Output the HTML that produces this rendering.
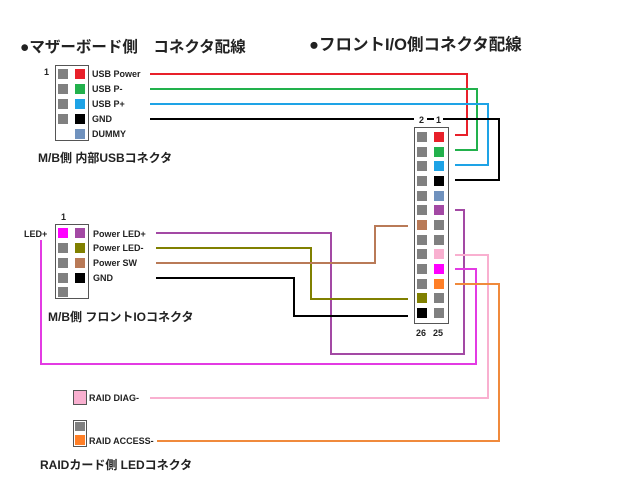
<!DOCTYPE html>
<html><head><meta charset="utf-8"><style>
html,body{margin:0;padding:0;background:#fff;}
svg{display:block;}
text{font-family:"Liberation Sans","Noto Sans CJK JP",sans-serif;font-weight:bold;fill:#222;}
</style></head><body>
<svg width="624" height="477" viewBox="0 0 624 477" xmlns="http://www.w3.org/2000/svg">
<text x="20" y="52" font-size="15.5">●マザーボード側　コネクタ配線</text>
<text x="309" y="50" font-size="16.5">●フロントI/O側コネクタ配線</text>

<!-- USB connector -->
<rect x="55.5" y="65.5" width="33" height="75" fill="#fff" stroke="#555"/>
<text x="44" y="75" font-size="9">1</text>
<g fill="#808080">
<rect x="58" y="69" width="10" height="10"/><rect x="58" y="84" width="10" height="10"/><rect x="58" y="99" width="10" height="10"/><rect x="58" y="114" width="10" height="10"/>
</g>
<rect x="75" y="69" width="10" height="10" fill="#e8202a"/>
<rect x="75" y="84" width="10" height="10" fill="#22b14c"/>
<rect x="75" y="99" width="10" height="10" fill="#1ea3e6"/>
<rect x="75" y="114" width="10" height="10" fill="#000"/>
<rect x="75" y="129" width="10" height="10" fill="#7092be"/>
<g font-size="9">
<text x="92" y="77">USB Power</text><text x="92" y="92">USB P-</text><text x="92" y="107">USB P+</text><text x="92" y="122">GND</text><text x="92" y="137">DUMMY</text>
</g>
<text x="38" y="162" font-size="12">M/B側 内部USBコネクタ</text>

<!-- Big connector -->
<rect x="414.5" y="127.5" width="34" height="196" fill="#fff" stroke="#555"/>
<text x="419" y="123" font-size="9">2</text><text x="436" y="123" font-size="9">1</text>
<text x="416" y="336" font-size="9">26</text><text x="433" y="336" font-size="9">25</text>
<g>
<rect x="417" y="132" width="10" height="10" fill="#808080"/><rect x="434" y="132" width="10" height="10" fill="#e8202a"/>
<rect x="417" y="147" width="10" height="10" fill="#808080"/><rect x="434" y="147" width="10" height="10" fill="#22b14c"/>
<rect x="417" y="161" width="10" height="10" fill="#808080"/><rect x="434" y="161" width="10" height="10" fill="#1ea3e6"/>
<rect x="417" y="176" width="10" height="10" fill="#808080"/><rect x="434" y="176" width="10" height="10" fill="#000"/>
<rect x="417" y="191" width="10" height="10" fill="#808080"/><rect x="434" y="191" width="10" height="10" fill="#7092be"/>
<rect x="417" y="205" width="10" height="10" fill="#808080"/><rect x="434" y="205" width="10" height="10" fill="#a349a4"/>
<rect x="417" y="220" width="10" height="10" fill="#b97a57"/><rect x="434" y="220" width="10" height="10" fill="#808080"/>
<rect x="417" y="235" width="10" height="10" fill="#808080"/><rect x="434" y="235" width="10" height="10" fill="#808080"/>
<rect x="417" y="249" width="10" height="10" fill="#808080"/><rect x="434" y="249" width="10" height="10" fill="#f9b0d0"/>
<rect x="417" y="264" width="10" height="10" fill="#808080"/><rect x="434" y="264" width="10" height="10" fill="#ff00ff"/>
<rect x="417" y="279" width="10" height="10" fill="#808080"/><rect x="434" y="279" width="10" height="10" fill="#ff7f27"/>
<rect x="417" y="293" width="10" height="10" fill="#808000"/><rect x="434" y="293" width="10" height="10" fill="#808080"/>
<rect x="417" y="308" width="10" height="10" fill="#000"/><rect x="434" y="308" width="10" height="10" fill="#808080"/>
</g>

<!-- Front IO connector -->
<rect x="55.5" y="224.5" width="33" height="74" fill="#fff" stroke="#555"/>
<text x="61" y="220" font-size="9">1</text>
<text x="24" y="237" font-size="9">LED+</text>
<rect x="58" y="228" width="10" height="10" fill="#ff00ff"/>
<g fill="#808080"><rect x="58" y="243" width="10" height="10"/><rect x="58" y="258" width="10" height="10"/><rect x="58" y="273" width="10" height="10"/><rect x="58" y="287" width="10" height="10"/></g>
<rect x="75" y="228" width="10" height="10" fill="#a349a4"/>
<rect x="75" y="243" width="10" height="10" fill="#808000"/>
<rect x="75" y="258" width="10" height="10" fill="#b97a57"/>
<rect x="75" y="273" width="10" height="10" fill="#000"/>
<g font-size="9">
<text x="93" y="237">Power LED+</text><text x="93" y="251">Power LED-</text><text x="93" y="266">Power SW</text><text x="93" y="281">GND</text>
</g>
<text x="48" y="321" font-size="12">M/B側 フロントIOコネクタ</text>

<!-- RAID -->
<rect x="73.5" y="390.5" width="13" height="14" fill="#f9b0d0" stroke="#555"/>
<rect x="73.5" y="420.5" width="13" height="26" fill="#fff" stroke="#555"/>
<rect x="75" y="422" width="10" height="9" fill="#808080"/>
<rect x="75" y="435" width="10" height="10" fill="#ff7f27"/>
<g font-size="9"><text x="89" y="401">RAID DIAG-</text><text x="89" y="444">RAID ACCESS-</text></g>
<text x="40" y="469" font-size="12">RAIDカード側 LEDコネクタ</text>

<!-- wires -->
<g fill="none" stroke-width="2">
<polyline stroke="#e8202a" points="150,74 467,74 467,135 455,135"/>
<polyline stroke="#22b14c" points="150,89 477,89 477,150 455,150"/>
<polyline stroke="#1ea3e6" points="150,104 488,104 488,165 455,165"/>
<polyline stroke="#000" points="150,119 414,119"/>
<polyline stroke="#000" points="427,119 434,119"/>
<polyline stroke="#000" points="443,119 499,119 499,180 455,180"/>
<polyline stroke="#a349a4" points="156,233 331,233 331,354 464,354 464,210 455,210"/>
<polyline stroke="#808000" points="156,248 311,248 311,299 408,299"/>
<polyline stroke="#b97a57" points="156,263 375,263 375,226 408,226"/>
<polyline stroke="#000" points="156,278 294,278 294,316 408,316"/>
<polyline stroke="#e33be3" points="41,240 41,364 476,364 476,269 455,269"/>
<polyline stroke="#f9b0d0" points="455,255 488,255 488,398 150,398"/>
<polyline stroke="#f08a3c" points="455,284 499,284 499,441 157,441"/>
</g>
</svg>
</body></html>
